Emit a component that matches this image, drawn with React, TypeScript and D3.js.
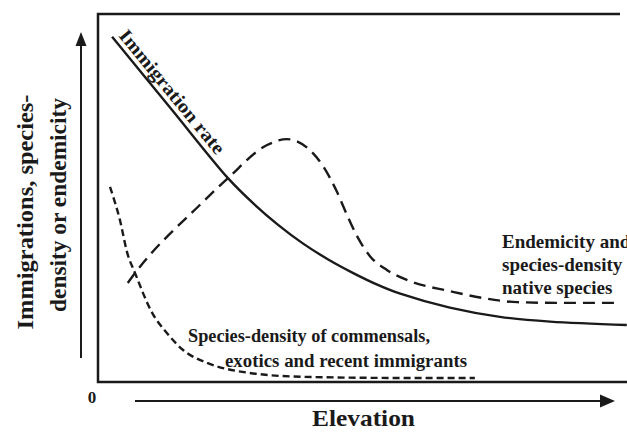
import React, { useEffect, useRef } from 'react';
import * as d3 from 'd3';

// elevation (0-100) vs. relative level (0-100)
const immigrationX = [2.7, 13.8, 24.9, 29.7, 34.5, 39.3, 44.1, 48.9, 53.6, 57.9, 67.4, 77.0, 86.6, 101.3];
const immigrationY = [93.8, 74.6, 55.4, 48.6, 42.7, 37.6, 33.3, 29.6, 26.4, 24.0, 20.2, 17.7, 16.4, 15.5];

const nativeX = [5.7, 7.1, 19.5, 24.9, 32.4, 36.2, 40.6, 43.1, 45.8, 47.7, 49.6, 52.1, 55.4, 59.8, 67.4, 73.8, 80.3, 88.5, 99.4];
const nativeY = [26.9, 29.6, 48.1, 55.4, 64.4, 66.0, 63.0, 58.7, 51.6, 45.4, 39.7, 34.2, 30.4, 27.4, 24.7, 22.8, 21.7, 21.5, 21.5];

const commensalX = [2.3, 4.2, 5.6, 7.1, 10.3, 13.2, 16.3, 20.9, 26.6, 39.3, 58.4, 72.2];
const commensalY = [53.0, 44.0, 35.1, 29.6, 19.0, 13.3, 8.7, 5.2, 3.0, 1.4, 1.1, 1.1];

const yLabel = ['Immigrations, species-', 'density or endemicity'];
const xLabel = 'Elevation';
const originLabel = '0';
const immigrationLabel = 'Immigration rate';
const nativeLabel = ['Endemicity and', 'species-density of', 'native species'];
const commensalLabel = ['Species-density of commensals,', 'exotics and recent immigrants'];

const W = 627;
const H = 432;
const INK = '#1a1a1a';
const FONT = '"Liberation Serif", "DejaVu Serif", serif';

type Pt = [number, number];

function Chart() {
  const ref = useRef<SVGSVGElement>(null);

  useEffect(() => {
    const svg = d3.select(ref.current);
    svg.selectAll('*').remove();

    const x = d3.scaleLinear().domain([0, 100]).range([98, 620]);
    const y = d3.scaleLinear().domain([0, 100]).range([382, 14]);

    const makeLine = (curve: d3.CurveFactory) => d3.line<Pt>()
      .x(d => x(d[0]))
      .y(d => y(d[1]))
      .curve(curve);

    const smooth = makeLine(d3.curveCatmullRom.alpha(0.5));
    const mono = makeLine(d3.curveMonotoneX);

    const zip = (xs: number[], ys: number[]): Pt[] => xs.map((v, i) => [v, ys[i]]);

    // frame: left, top and bottom edges (right side is off the page)
    const frame = svg.append('g').attr('stroke', INK).attr('stroke-width', 2.5).attr('fill', 'none');
    frame.append('path')
      .attr('d', `M${x(100)},${y(100)}H${x(0)}V${y(0)}H${W + 5}`);

    // y arrow
    svg.append('line')
      .attr('x1', 81).attr('x2', 81)
      .attr('y1', 358).attr('y2', 42)
      .attr('stroke', INK).attr('stroke-width', 2);
    svg.append('path')
      .attr('d', 'M81,32L75.5,46L86.5,46Z')
      .attr('fill', INK);

    // x arrow
    svg.append('line')
      .attr('x1', 135).attr('x2', 605)
      .attr('y1', 401).attr('y2', 401)
      .attr('stroke', INK).attr('stroke-width', 2);
    svg.append('path')
      .attr('d', 'M615,401L600,394.5L600,407.5Z')
      .attr('fill', INK);

    // curves
    svg.append('path')
      .attr('d', smooth(zip(immigrationX, immigrationY)))
      .attr('fill', 'none').attr('stroke', INK).attr('stroke-width', 2.4);

    svg.append('path')
      .attr('d', mono(zip(nativeX, nativeY)))
      .attr('fill', 'none').attr('stroke', INK).attr('stroke-width', 2.4)
      .attr('stroke-dasharray', '12,7');

    svg.append('path')
      .attr('d', mono(zip(commensalX, commensalY)))
      .attr('fill', 'none').attr('stroke', INK).attr('stroke-width', 2.4)
      .attr('stroke-dasharray', '7,4');

    const txt = svg.append('g')
      .attr('font-family', FONT)
      .attr('font-weight', 'bold')
      .attr('fill', INK);

    // y label, rotated
    const yPos = [[33, 212, 235], [66, 205, 214]];
    yLabel.forEach((s, i) => {
      txt.append('text')
        .attr('transform', `translate(${yPos[i][0]},${yPos[i][1]}) rotate(-90)`)
        .attr('text-anchor', 'middle')
        .attr('font-size', 24)
        .attr('textLength', yPos[i][2])
        .attr('lengthAdjust', 'spacingAndGlyphs')
        .text(s);
    });

    txt.append('text')
      .attr('x', 312).attr('y', 426)
      .attr('font-size', 23)
      .attr('textLength', 103)
      .attr('lengthAdjust', 'spacingAndGlyphs')
      .text(xLabel);

    txt.append('text')
      .attr('x', 92).attr('y', 403)
      .attr('text-anchor', 'middle')
      .attr('font-size', 17)
      .text(originLabel);

    txt.append('text')
      .attr('transform', 'translate(118,36) rotate(50.6)')
      .attr('font-size', 19)
      .attr('textLength', 155)
      .attr('lengthAdjust', 'spacingAndGlyphs')
      .text(immigrationLabel);

    // this label runs off the right edge, as in the source figure
    nativeLabel.forEach((s, i) => {
      txt.append('text')
        .attr('x', 502).attr('y', 248 + i * 23)
        .attr('font-size', 19)
        .text(s);
    });

    const cPos = [[188, 342, 242], [225, 367, 242]];
    commensalLabel.forEach((s, i) => {
      txt.append('text')
        .attr('x', cPos[i][0]).attr('y', cPos[i][1])
        .attr('font-size', 18.5)
        .attr('textLength', cPos[i][2])
        .attr('lengthAdjust', 'spacingAndGlyphs')
        .text(s);
    });
  }, []);

  return (
    <svg
      ref={ref}
      width={W}
      height={H}
      style={{ position: 'absolute', left: 0, top: 0, background: '#fff' }}
    />
  );
}

export default function App() {
  return <Chart />;
}
